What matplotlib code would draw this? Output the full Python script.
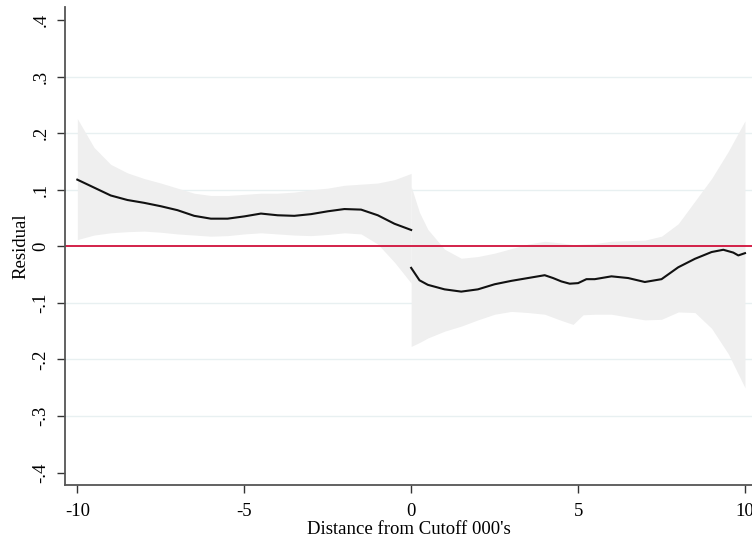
import numpy as np
import matplotlib
matplotlib.use("Agg")
import matplotlib.pyplot as plt

plt.rcParams['font.family'] = ['Liberation Serif', 'DejaVu Serif']
plt.rcParams['axes.unicode_minus'] = False

# left of cutoff: smoothed residual and its confidence band
left_x = [-10, -9.5, -9, -8.5, -8, -7.5, -7, -6.5, -6, -5.5, -5, -4.5, -4,
          -3.5, -3, -2.5, -2, -1.5, -1, -0.5, 0]
left_fit = [0.118, 0.104, 0.090, 0.082, 0.077, 0.071, 0.064, 0.054, 0.049,
            0.049, 0.053, 0.058, 0.055, 0.054, 0.057, 0.062, 0.066, 0.065,
            0.055, 0.040, 0.029]
left_hi = [0.226, 0.175, 0.145, 0.130, 0.120, 0.112, 0.103, 0.094, 0.090,
           0.090, 0.092, 0.094, 0.094, 0.096, 0.100, 0.103, 0.108, 0.110,
           0.112, 0.118, 0.129]
left_lo = [0.012, 0.020, 0.024, 0.026, 0.027, 0.025, 0.022, 0.020, 0.018,
           0.019, 0.022, 0.024, 0.022, 0.020, 0.019, 0.021, 0.024, 0.022,
           0.004, -0.028, -0.065]

# right of cutoff
right_x = [0, 0.25, 0.5, 1, 1.5, 2, 2.5, 3, 3.5, 4, 4.25, 4.5, 4.75, 5,
           5.25, 5.5, 6, 6.5, 7, 7.5, 8, 8.5, 9, 9.35, 9.65, 9.8, 10]
right_fit = [-0.038, -0.060, -0.068, -0.076, -0.080, -0.076, -0.067, -0.061,
             -0.056, -0.051, -0.056, -0.062, -0.066, -0.065, -0.058, -0.058,
             -0.053, -0.056, -0.063, -0.058, -0.037, -0.022, -0.010, -0.006,
             -0.011, -0.016, -0.012]
band_x = [0, 0.25, 0.5, 1, 1.5, 2, 2.5, 3, 3.5, 4, 4.5, 4.85, 5.15, 5.5,
          6, 6.5, 7, 7.5, 8, 8.5, 9, 9.5, 10]
band_hi = [0.106, 0.060, 0.030, -0.005, -0.021, -0.018, -0.012, -0.004,
           0.004, 0.009, 0.006, 0.003, 0.004, 0.005, 0.009, 0.010, 0.011,
           0.018, 0.040, 0.080, 0.120, 0.168, 0.222]
band_lo = [-0.177, -0.170, -0.162, -0.150, -0.141, -0.130, -0.120, -0.115,
           -0.117, -0.120, -0.131, -0.138, -0.121, -0.120, -0.120, -0.125,
           -0.130, -0.129, -0.116, -0.117, -0.145, -0.190, -0.250]

yticks = [0.4, 0.3, 0.2, 0.1, 0, -0.1, -0.2, -0.3, -0.4]
ytick_labels = ['.4', '.3', '.2', '.1', '0', '-.1', '-.2', '-.3', '-.4']
xticks = [-10, -5, 0, 5, 10]

fig = plt.figure(figsize=(7.52, 5.43), dpi=100)
ax = fig.add_axes([0.0864, 0.1068, 0.9136, 0.880])

for y in [0.3, 0.2, 0.1, -0.1, -0.2, -0.3]:
    ax.axhline(y, color='#e8f0f1', lw=1.0, zorder=0)

band_col = '#efefef'
ax.fill_between(left_x, left_lo, left_hi, color=band_col, lw=0, zorder=1)
ax.fill_between(band_x, band_lo, band_hi, color=band_col, lw=0, zorder=1)

ax.axhline(0, color='#d0103a', lw=1.3, zorder=2)

ax.plot(left_x, left_fit, color='#111111', lw=1.5, zorder=3,
        solid_joinstyle='round')
ax.plot(right_x, right_fit, color='#111111', lw=1.5, zorder=3,
        solid_joinstyle='round')

ax.set_xlim(-10.37, 10.21)
ax.set_ylim(-0.422, 0.423)

ax.set_yticks(yticks)
ax.set_yticklabels(ytick_labels, rotation=90, va='center')
ax.set_xticks(xticks)
ax.tick_params(axis='both', direction='out', length=6, width=1.0,
               color='#333333', labelsize=13.5)
ax.tick_params(axis='x', pad=7)
ax.tick_params(axis='y', pad=5)

for side in ['top', 'right']:
    ax.spines[side].set_visible(False)
for side in ['left', 'bottom']:
    ax.spines[side].set_color('#555555')
    ax.spines[side].set_linewidth(1.3)

ax.set_xlabel("Distance from Cutoff 000's", fontsize=13.5, labelpad=1)
ax.set_ylabel('Residual', fontsize=13.5, labelpad=2)

fig.savefig('out.png', dpi=100)
